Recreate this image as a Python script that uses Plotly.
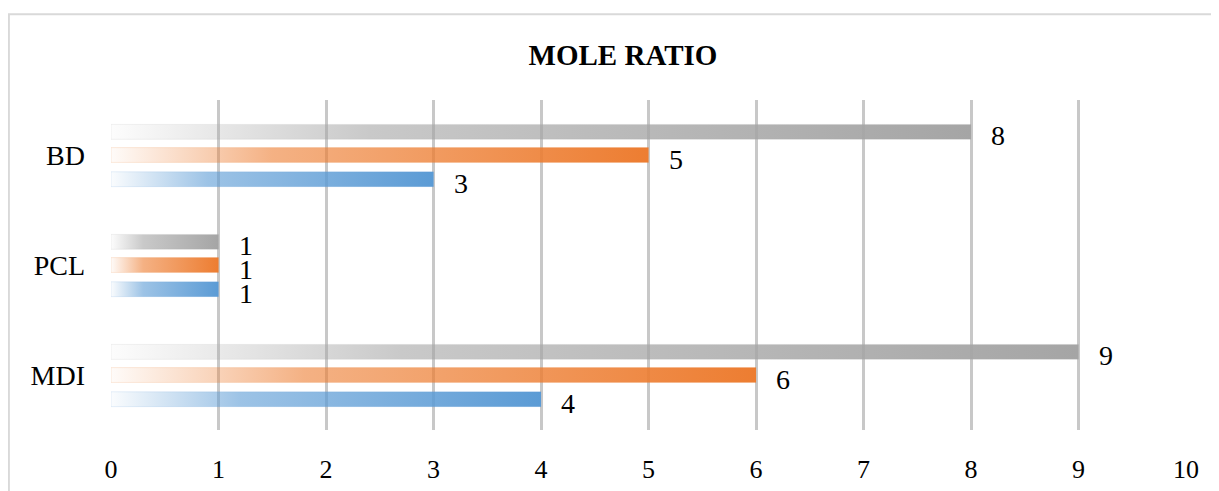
import plotly.graph_objects as go

categories = ["MDI", "PCL", "BD"]
series_names = ["Series1", "Series2", "Series3"]
series1 = [4, 1, 3]   # blue
series2 = [6, 1, 5]   # orange
series3 = [9, 1, 8]   # gray
x_ticks = [0, 1, 2, 3, 4, 5, 6, 7, 8, 9, 10]

colors = [(91, 155, 213), (237, 125, 49), (165, 165, 165)]
offsets = [-0.22, 0.0, 0.21]
bar_h = 0.135
FONT = "Liberation Serif, Times New Roman, serif"

fig = go.Figure()
annotations = []
for values, name, (r, g, b), off in zip([series1, series2, series3], series_names, colors, offsets):
    for ci, v in enumerate(values):
        y0 = ci + off - bar_h / 2
        y1 = ci + off + bar_h / 2
        fig.add_trace(go.Scatter(
            x=[0, v, v, 0, 0], y=[y0, y0, y1, y1, y0],
            mode="lines", fill="toself", line=dict(width=0.6, color=f"rgba({r},{g},{b},0.25)"),
            fillgradient=dict(type="horizontal", colorscale=[
                [0, f"rgba({r},{g},{b},0.03)"],
                [0.3, f"rgba({r},{g},{b},0.6)"],
                [1, f"rgba({r},{g},{b},1)"]]),
            name=name, showlegend=False, hoverinfo="skip"))
        annotations.append(dict(x=v, y=ci + off, text=str(v), showarrow=False,
                                xanchor="left", yanchor="middle", xshift=18, yshift=-4,
                                font=dict(family=FONT, size=28, color="#000")))

# the page body adds an 8px margin, so the figure is laid out 8px up/left
fig.update_layout(
    width=1219, height=491,
    margin=dict(l=103, r=41, t=92, b=69),
    paper_bgcolor="white", plot_bgcolor="white",
    title=dict(text="<b>MOLE RATIO</b>", x=0.5045, xanchor="center", y=1 - 47 / 491, yanchor="middle",
               font=dict(family=FONT, size=29, color="#000")),
    xaxis=dict(range=[0, 10], tickvals=x_ticks, ticktext=[str(t) for t in x_ticks],
               showgrid=True, gridcolor="#c8c8c8", gridwidth=3, zeroline=False, showline=False,
               ticks="", ticklabelstandoff=21,
               tickfont=dict(family=FONT, size=26, color="#000")),
    yaxis=dict(range=[-0.5, 2.5], tickvals=[0, 1, 2], ticktext=categories,
               showgrid=False, zeroline=False, showline=False, ticks="", ticklabelstandoff=25,
               tickfont=dict(family=FONT, size=28, color="#000")),
    annotations=annotations,
    shapes=[dict(type="rect", xref="paper", yref="paper", x0=-0.095, x1=1.2, y0=-0.3, y1=1.26,
                 line=dict(color="#d9d9d9", width=2), fillcolor="rgba(0,0,0,0)", layer="below")],
)
fig.write_html("out.html")
